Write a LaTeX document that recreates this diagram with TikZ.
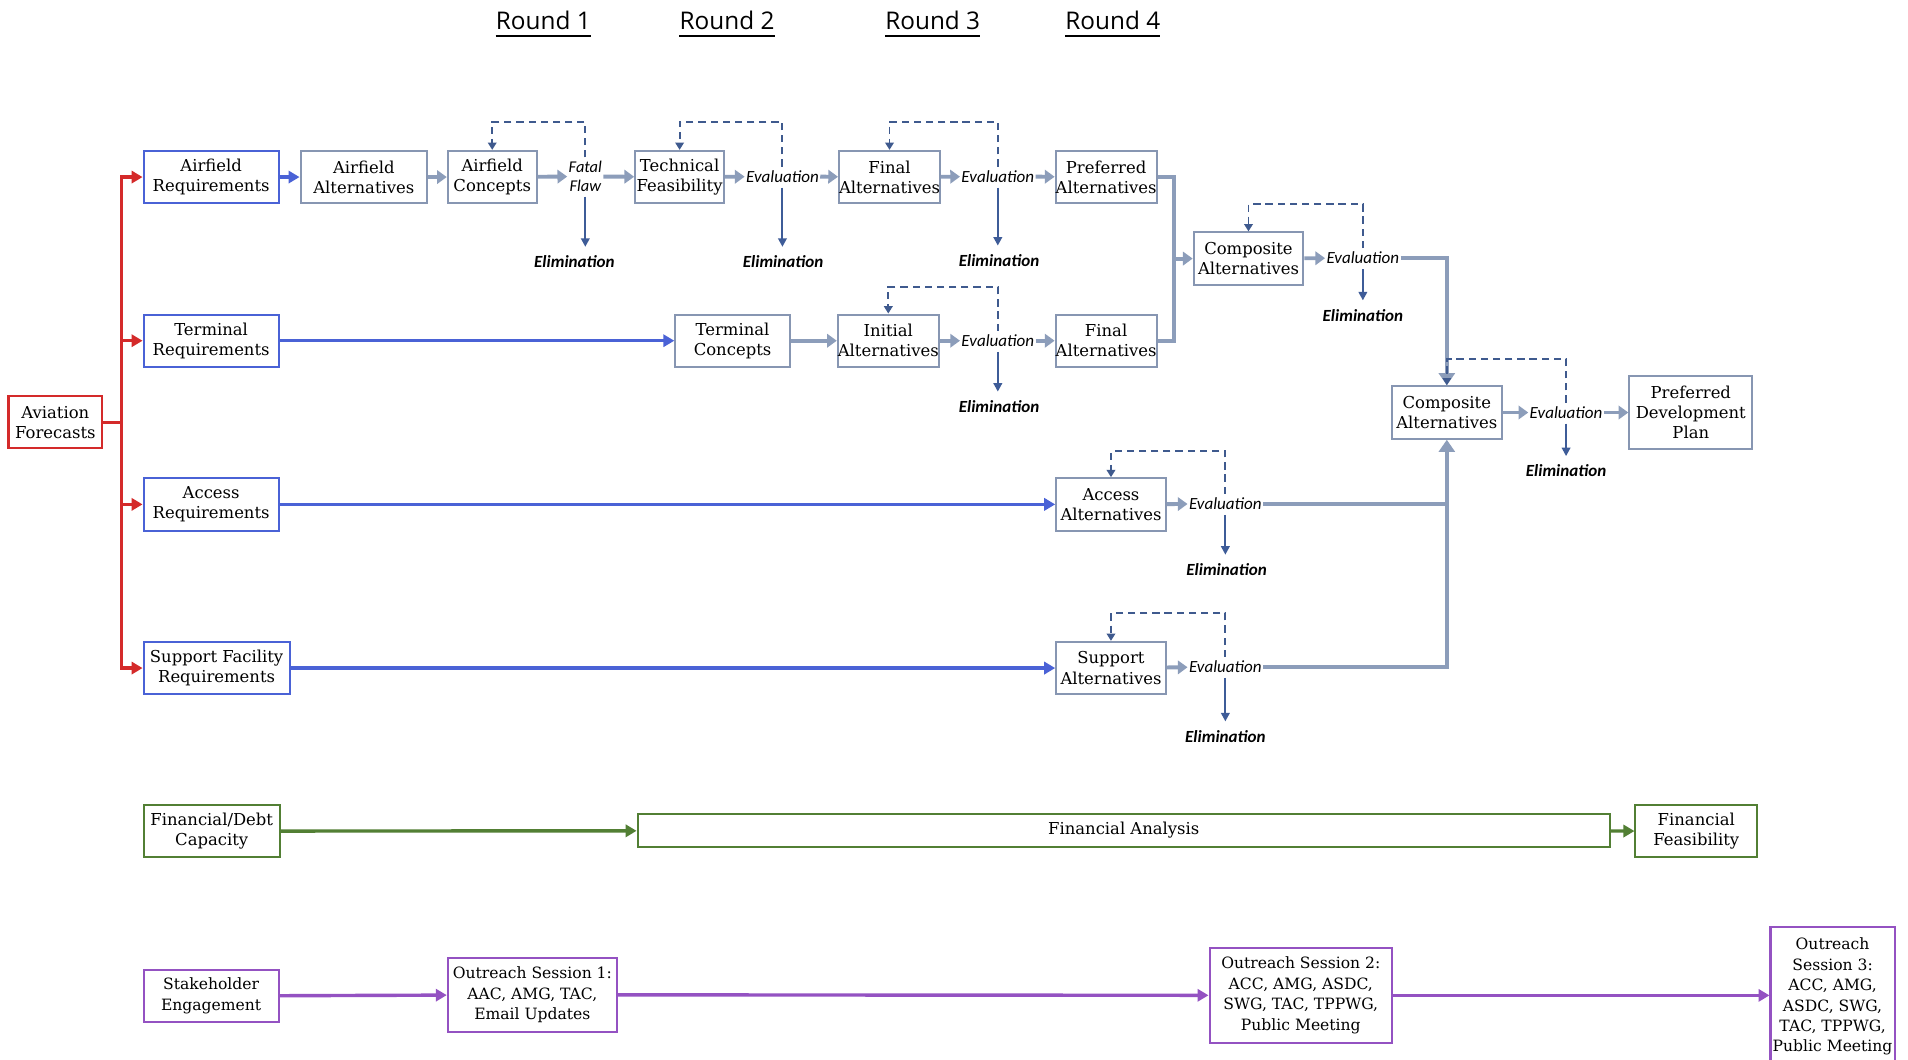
\documentclass[tikz,border=0pt]{standalone}
\usepackage{fontspec}
\setmainfont{DejaVu Serif}
\newfontfamily\sansf{Carlito}
\newfontfamily\roundf{Open Sans}
\usetikzlibrary{arrows.meta,calc}
\definecolor{cred}{HTML}{D42A2A}
\definecolor{cblue}{HTML}{4A62D6}
\definecolor{cgrayb}{HTML}{8796B2}
\definecolor{carrow}{HTML}{8C9DBA}
\definecolor{cdash}{HTML}{3F5A8E}
\definecolor{celim}{HTML}{3E5C98}
\definecolor{cgreen}{HTML}{527F34}
\definecolor{cpurp}{HTML}{9452C2}
\tikzset{
  bx/.style={draw=#1, line width=1.7pt, fill=white, align=center, inner ysep=1pt, inner xsep=0pt,
    font=\fontsize{13.5}{16.5}\selectfont, minimum height=43pt},
  bbox/.style={bx=cblue},
  gbox/.style={bx=cgrayb},
  rbox/.style={bx=cred},
  grbox/.style={bx=cgreen},
  pbox/.style={bx=cpurp, font=\fontsize{12.8}{16.8}\selectfont},
  evl/.style={font=\sansf\itshape\fontsize{14}{15}\selectfont, inner sep=1pt, align=center},
  elim/.style={font=\sansf\bfseries\itshape\fontsize{14}{15}\selectfont, inner sep=1pt},
  rnd/.style={font=\roundf\fontsize{20}{24}\selectfont, inner sep=0pt},
  garrow/.style={draw=carrow, line width=3.2pt, -{Triangle[width=11pt,length=8pt]}},
  garrowL/.style={draw=carrow, line width=3.6pt, line join=miter, -{Triangle[width=13pt,length=10pt]}},
  gline/.style={draw=carrow, line width=3.6pt, line join=miter},
  barrow/.style={draw=cblue, line width=2.6pt, -{Triangle[width=10pt,length=9pt]}},
  rarrow/.style={draw=cred, line width=2.6pt, -{Triangle[width=10pt,length=9pt]}},
  rline/.style={draw=cred, line width=2.6pt},
  grarrow/.style={draw=cgreen, line width=2.8pt, -{Triangle[width=10pt,length=9pt]}},
  parrow/.style={draw=cpurp, line width=2.8pt, -{Triangle[width=10pt,length=9pt]}},
  dloop/.style={draw=cdash, line width=1.6pt, dash pattern=on 6pt off 4pt, shorten <=2pt, -{Triangle[width=7pt,length=6pt]}},
  earrow/.style={draw=celim, line width=1.7pt, shorten <=3pt, shorten >=6pt, -{Triangle[width=7pt,length=7pt]}},
}
\begin{document}
\begin{tikzpicture}[x=1pt,y=-1pt]
\fill[white] (0,0) rectangle (1568,871);
\useasboundingbox (0,0) rectangle (1568,871);

% Round titles
\foreach \n/\x/\t in {r1/446.5/Round 1, r2/597.5/Round 2, r3/766.5/Round 3, r4/914.5/Round 4}{
  \node[rnd] (\n) at (\x,17) {\t};
  \draw[line width=1.2pt] ($(\n.base west)+(0,5)$) -- ($(\n.base east)+(0,5)$);
}

% Aviation forecasts
\node[rbox, minimum width=77] (af) at (45.5,347) {Aviation\\Forecasts};

% Row 1
\node[bbox, minimum width=111] (ar) at (173.5,145.5) {Airfield\\Requirements};
\node[gbox, minimum width=104] (aa) at (299,145.5) {Airfield\\Alternatives};
\node[gbox, minimum width=73] (ac) at (404.5,145.5) {Airfield\\Concepts};
\node[evl, font=\sansf\itshape\fontsize{13.5}{15.5}\selectfont] (ff) at (481,145) {Fatal\\Flaw};
\node[gbox, minimum width=73] (tf) at (558.5,145.5) {Technical\\Feasibility};
\node[evl] (ev1) at (643,145) {Evaluation};
\node[gbox, minimum width=82] (fa1) at (731,145.5) {Final\\Alternatives};
\node[evl] (ev2) at (820,145) {Evaluation};
\node[gbox, minimum width=82] (pa) at (909,145.5) {Preferred\\Alternatives};

% Row 2
\node[bbox, minimum width=111] (tr) at (173.5,280) {Terminal\\Requirements};
\node[gbox, minimum width=94] (tc) at (602,280) {Terminal\\Concepts};
\node[gbox, minimum width=82] (ia) at (730,280) {Initial\\Alternatives};
\node[evl] (ev3) at (820,280) {Evaluation};
\node[gbox, minimum width=82] (fa2) at (909,280) {Final\\Alternatives};

% Composites
\node[gbox, minimum width=90] (ca1) at (1026,212.5) {Composite\\Alternatives};
\node[evl] (ev5) at (1120,212) {Evaluation};
\node[gbox, minimum width=90] (ca2) at (1189,339) {Composite\\Alternatives};
\node[evl] (ev6) at (1287,339) {Evaluation};
\node[gbox, minimum width=101, minimum height=60] (pdp) at (1389.5,339) {Preferred\\Development\\Plan};

% Row 3
\node[bbox, minimum width=111] (acr) at (173.5,414.5) {Access\\Requirements};
\node[gbox, minimum width=90] (aca) at (913,414.5) {Access\\Alternatives};
\node[evl] (ev7) at (1007,414) {Evaluation};

% Row 4
\node[bbox, minimum width=120] (sr) at (178,549) {Support Facility\\Requirements};
\node[gbox, minimum width=90] (sa) at (913,549) {Support\\Alternatives};
\node[evl] (ev8) at (1007,548) {Evaluation};

% Green row
\node[grbox, minimum width=112] (fdc) at (174,683) {Financial/Debt\\Capacity};
\node[grbox, minimum width=799, minimum height=27] (fan) at (923.5,682.5) {Financial Analysis};
\node[grbox, minimum width=100] (ffe) at (1394,683) {Financial\\Feasibility};

% Purple row
\node[pbox, minimum width=111, minimum height=43] (se) at (173.5,818.5) {Stakeholder\\Engagement};
\node[pbox, minimum width=139, minimum height=61] (os1) at (437.5,817.5) {Outreach Session 1:\\AAC, AMG, TAC,\\Email Updates};
\node[pbox, minimum width=150, minimum height=78] (os2) at (1069,818) {Outreach Session 2:\\ACC, AMG, ASDC,\\SWG, TAC, TPPWG,\\Public Meeting};
\node[pbox, minimum width=102, minimum height=114] (os3) at (1506,819) {Outreach\\Session 3:\\ACC, AMG,\\ASDC, SWG,\\TAC, TPPWG,\\Public Meeting};

% Elimination labels
\node[elim] (el1) at (472,215) {Elimination};
\node[elim] (el2) at (643.5,215) {Elimination};
\node[elim] (el3) at (821,214) {Elimination};
\node[elim] (el4) at (821,334) {Elimination};
\node[elim] (el5) at (1120,259) {Elimination};
\node[elim] (el6) at (1287,387) {Elimination};
\node[elim] (el7) at (1008,468) {Elimination};
\node[elim] (el8) at (1007,605) {Elimination};

% Red connectors
\coordinate (rj) at (100,347);
\draw[rline] (af.east) -- (rj);
\draw[rarrow] (rj) |- (ar.west);
\draw[rarrow] (rj) |- (tr.west);
\draw[rarrow] (rj) |- (acr.west);
\draw[rarrow] (rj) |- (sr.west);

% Blue connectors
\draw[barrow] (ar) -- (aa);
\draw[barrow] (tr) -- (tc);
\draw[barrow] (acr) -- (aca);
\draw[barrow] (sr) -- (sa);

% Gray connectors
\draw[garrow] (aa) -- (ac);
\draw[garrow] (ac) -- (ff);
\draw[garrow] (ff) -- (tf);
\draw[garrow] (tf) -- (ev1);
\draw[garrow] (ev1) -- (fa1);
\draw[garrow] (fa1) -- (ev2);
\draw[garrow] (ev2) -- (pa);
\draw[garrow] (tc) -- (ia);
\draw[garrow] (ia) -- (ev3);
\draw[garrow] (ev3) -- (fa2);
\coordinate (jn) at (965,212.5);
\draw[gline] (pa.east) -| (jn) |- (fa2.east);
\draw[garrow] (jn) -- (ca1.west);
\draw[garrow] (ca1) -- (ev5);
\draw[garrowL] (ev5.east) -| (ca2.north);
\draw[garrow] (ca2) -- (ev6);
\draw[garrow] (ev6) -- (pdp);
\draw[garrow] (aca) -- (ev7);
\draw[garrow] (sa) -- (ev8);
\draw[gline] (ev7.east) -- (ev7.east -| ca2.south);
\draw[garrowL] (ev8.east) -| (ca2.south);

% Dashed feedback loops
\draw[dloop] (ff.north) -- (ff.north |- 0,100) -| (ac.north);
\draw[dloop] (ev1.north) -- (ev1.north |- 0,100) -| (tf.north);
\draw[dloop] (ev2.north) -- (ev2.north |- 0,100) -| (fa1.north);
\draw[dloop] (ev3.north) -- (ev3.north |- 0,236) -| (ia.north);
\draw[dloop] (ev5.north) -- (ev5.north |- 0,168) -| (ca1.north);
\draw[dloop] (ev6.north) -- (ev6.north |- 0,295) -| (ca2.north);
\draw[dloop] (ev7.north) -- (ev7.north |- 0,371) -| (aca.north);
\draw[dloop] (ev8.north) -- (ev8.north |- 0,504) -| (sa.north);

% Elimination arrows
\draw[earrow] (ff.south) -- (ff.south |- el1.north);
\draw[earrow] (ev1.south) -- (ev1.south |- el2.north);
\draw[earrow] (ev2.south) -- (ev2.south |- el3.north);
\draw[earrow] (ev3.south) -- (ev3.south |- el4.north);
\draw[earrow] (ev5.south) -- (ev5.south |- el5.north);
\draw[earrow] (ev6.south) -- (ev6.south |- el6.north);
\draw[earrow] (ev7.south) -- (ev7.south |- el7.north);
\draw[earrow] (ev8.south) -- (ev8.south |- el8.north);

% Green
\draw[grarrow] (fdc) -- (fan);
\draw[grarrow] (fan) -- (ffe);

% Purple
\draw[parrow] (se) -- (os1);
\draw[parrow] (os1) -- (os2);
\draw[parrow] (os2.east) -- (os2.east -| os3.west);
\end{tikzpicture}
\end{document}
